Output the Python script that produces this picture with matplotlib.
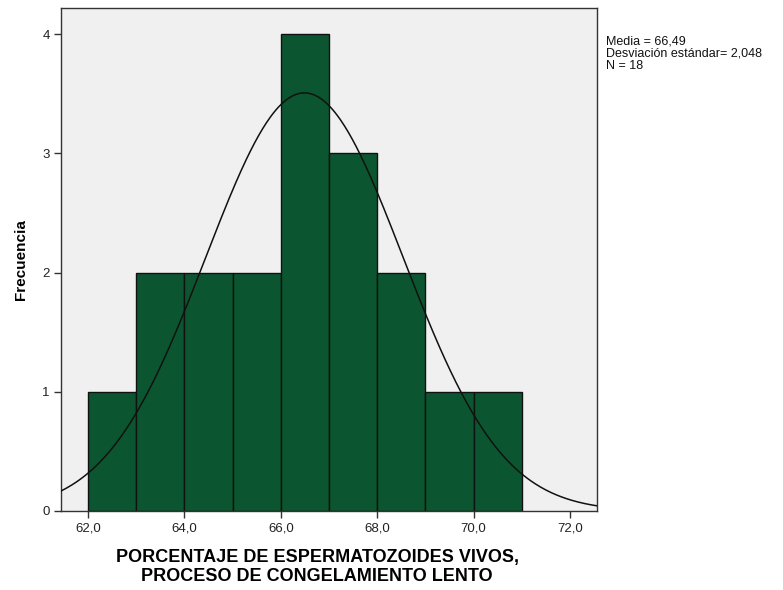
import numpy as np
import matplotlib.pyplot as plt

plt.rcParams['font.family'] = ['Liberation Sans', 'DejaVu Sans']

# histograma: límites de las clases y frecuencias
bordes = [62, 63, 64, 65, 66, 67, 68, 69, 70, 71]
frecuencias = [1, 2, 2, 2, 4, 3, 2, 1, 1]
media = 66.49
desv = 2.048
n = 18
xticks = [62, 64, 66, 68, 70, 72]
yticks = [0, 1, 2, 3, 4]

fig = plt.figure(figsize=(7.83, 5.90), dpi=100)
ax = fig.add_axes([0.0779, 0.1339, 0.6846, 0.8525])
ax.set_facecolor('#f0f0f0')

ancho = np.diff(bordes)
ax.bar(bordes[:-1], frecuencias, width=ancho, align='edge',
       color='#0b5630', edgecolor='#111111', linewidth=1.0, zorder=2)

# curva normal escalada a frecuencias (ancho de clase 1)
xs = np.linspace(61.44, 72.56, 400)
ys = n * 1.0 / (desv * np.sqrt(2 * np.pi)) * np.exp(-0.5 * ((xs - media) / desv) ** 2)
ax.plot(xs, ys, color='#111111', linewidth=1.1, zorder=3)

ax.set_xlim(61.44, 72.56)
ax.set_ylim(0, 4.218)
ax.set_xticks(xticks)
ax.set_xticklabels([f'{v:.1f}'.replace('.', ',') for v in xticks])
ax.set_yticks(yticks)
ax.tick_params(axis='both', length=5, width=1, color='#333333',
               labelsize=9.5, labelcolor='#222222', pad=3)
for s in ax.spines.values():
    s.set_color('#333333')
    s.set_linewidth(1.0)

ax.set_xlabel('PORCENTAJE DE ESPERMATOZOIDES VIVOS,\nPROCESO DE CONGELAMIENTO LENTO',
              fontsize=13, fontweight='bold', linespacing=1.15)
ax.xaxis.set_label_coords(0.478, -0.075)
ax.xaxis.label.set_va('top')
ax.set_ylabel('Frecuencia', fontsize=11, fontweight='bold', labelpad=10)

fig.text(606 / 783, 1 - 36 / 590,
         f'Media = {media:.2f}\nDesviación estándar= {desv:.3f}\nN = {n}'.replace('.', ','),
         fontsize=9, va='top', ha='left', linespacing=1.0, color='#111111')

fig.savefig('out.png', dpi=100)
